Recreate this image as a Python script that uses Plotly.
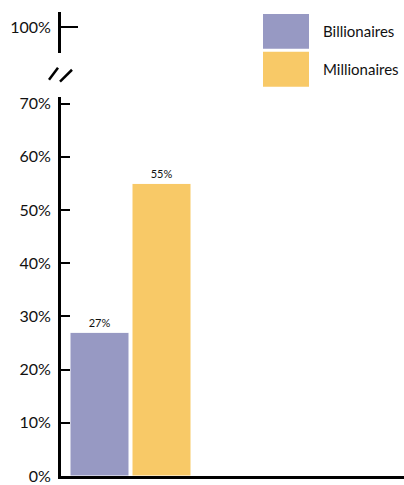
import plotly.graph_objects as go

series = ["Billionaires", "Millionaires"]
values = [27, 55]
colors = ["#9799C3", "#F8C967"]
main_ticks = [0, 10, 20, 30, 40, 50, 60, 70]
main_tick_labels = [f"{v}%" for v in main_ticks]
top_ticks = [100]
top_tick_labels = ["100%"]

W, H = 404, 485
ml, mr, mt, mb = 61, 0, 12, 7
pw, ph = W - ml - mr, H - mt - mb
FONT = "Lato, Open Sans, sans-serif"

def px_x(p):
    return (p - ml) / pw

def px_y(p):
    return (H - mb - p) / ph

fig = go.Figure()
for name, v, c in zip(series, values, colors):
    fig.add_trace(go.Bar(
        x=[0], y=[v], name=name, marker=dict(color=c, line=dict(color="white", width=1)),
        text=[f"{v}%"], textposition="outside", cliponaxis=False,
        textfont=dict(family=FONT, size=11, color="#111"),
        showlegend=False, xaxis="x", yaxis="y",
    ))
# invisible trace for the top (broken) axis segment
fig.add_trace(go.Scatter(x=[0], y=[100], mode="markers", marker=dict(opacity=0),
                         showlegend=False, hoverinfo="skip", xaxis="x", yaxis="y2"))

unit = 150.0       # pixels per category unit
group_px = 124.0   # pixel width of the bar group
center_px = 130.5  # pixel x of the group centre
fig.update_layout(
    width=W, height=H,
    margin=dict(l=ml, r=mr, t=mt, b=mb, pad=0),
    plot_bgcolor="white", paper_bgcolor="white",
    barmode="group", bargap=1 - group_px / unit, bargroupgap=3 / (group_px / 2),
    font=dict(family=FONT, size=16, color="#111"),
    xaxis=dict(range=[-(center_px - ml) / unit, (W - center_px) / unit],
               showticklabels=False, ticks="",
               showgrid=False, zeroline=False, showline=True, linecolor="black",
               linewidth=3, anchor="y"),
    yaxis=dict(domain=[0, px_y(97)], range=[0, 70 * 381 / 374],
               tickvals=main_ticks, ticktext=main_tick_labels,
               ticks="inside", ticklen=9, tickwidth=2, tickcolor="black",
               showline=True, linecolor="black", linewidth=3,
               showgrid=False, zeroline=False, anchor="x",
               ticklabelstandoff=4, ticklabeloverflow="allow"),
    yaxis2=dict(domain=[px_y(53), 1], range=[100 - 26 / 41 * 10, 100 + 15 / 41 * 10],
                tickvals=top_ticks, ticktext=top_tick_labels,
                ticks="inside", ticklen=17, tickwidth=2, tickcolor="black",
                showline=True, linecolor="black", linewidth=3,
                showgrid=False, zeroline=False, anchor="x",
                ticklabelstandoff=4, ticklabeloverflow="allow"),
)

# axis break marks
for (x0, y0, x1, y1) in [(49, 80, 58, 68), (60, 82, 72, 70)]:
    fig.add_shape(type="line", xref="paper", yref="paper",
                  x0=px_x(x0), y0=px_y(y0), x1=px_x(x1), y1=px_y(y1),
                  line=dict(color="black", width=2.5))

# legend swatches
for i, (name, c) in enumerate(zip(series, colors)):
    top = 14 + i * 38
    fig.add_shape(type="rect", xref="paper", yref="paper",
                  x0=px_x(263), x1=px_x(309), y0=px_y(top), y1=px_y(top + 35),
                  fillcolor=c, line=dict(width=0))
    fig.add_annotation(xref="paper", yref="paper", x=px_x(321), y=px_y(top + 17),
                       text=name, showarrow=False, xanchor="left", yanchor="middle",
                       font=dict(size=15, color="#111"))

fig.write_html("out.html", config={"displayModeBar": False},
               post_script="document.body.style.margin='0px';")
